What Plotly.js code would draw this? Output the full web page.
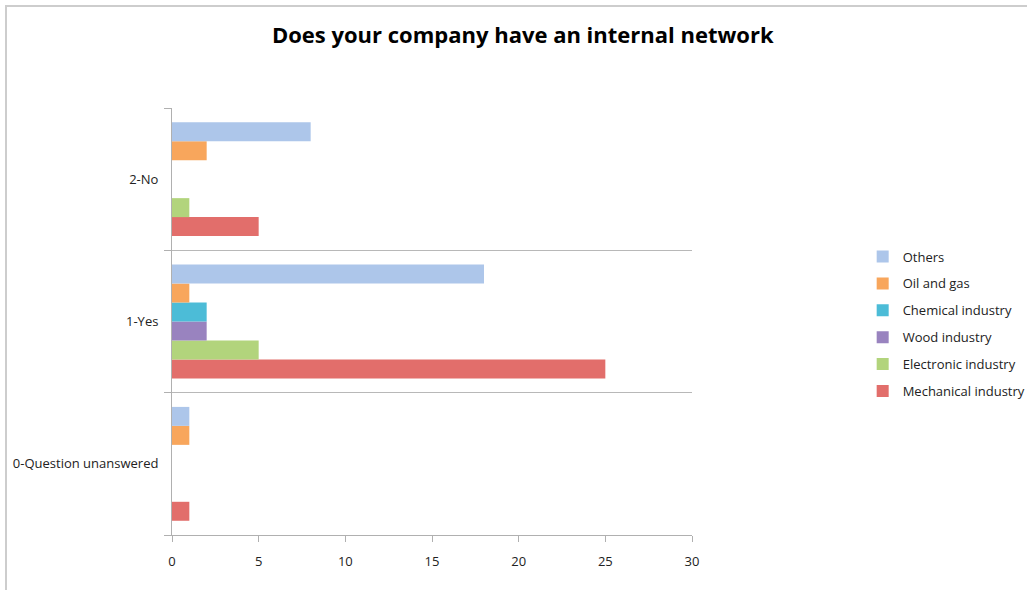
<!DOCTYPE html>
<html>
<head>
<meta charset="utf-8">
<script src="https://cdn.plot.ly/plotly-3.0.1.min.js"></script>
<style>
html,body{margin:0;padding:0;background:#fff;overflow:hidden;}
#wrap{position:absolute;left:0;top:0;width:1027px;height:590px;overflow:hidden;}
#frame{position:absolute;left:5px;top:5px;width:1040px;height:600px;border-left:2px solid #cdcdcd;border-top:2px solid #cdcdcd;pointer-events:none;}
#chart{width:1027px;height:590px;}
</style>
</head>
<body>
<div id="wrap"><div id="chart"></div><div id="frame"></div></div>
<script>
const categories = ['0-Question unanswered', '1-Yes', '2-No'];
const seriesNames = ['Mechanical industry', 'Electronic industry', 'Wood industry', 'Chemical industry', 'Oil and gas', 'Others'];
const mechanical = [1, 25, 5];
const electronic = [0, 5, 1];
const wood = [0, 2, 0];
const chemical = [0, 2, 0];
const oilGas = [1, 1, 2];
const others = [1, 18, 8];
const xTicks = [0, 5, 10, 15, 20, 25, 30];

const values = [mechanical, electronic, wood, chemical, oilGas, others];
const colors = ['#e26e6b', '#b2d47c', '#9983bf', '#4cbcd7', '#f8a65c', '#adc6ea'];

const traces = seriesNames.map((name, i) => ({
  type: 'bar',
  orientation: 'h',
  name: name,
  legendgroup: 'g' + i,
  legendrank: seriesNames.length - i,
  y: categories,
  x: values[i],
  marker: {color: colors[i], line: {width: 0}},
  hoverinfo: 'x+name'
}));

const layout = {
  width: 1027,
  height: 590,
  paper_bgcolor: '#ffffff',
  plot_bgcolor: '#ffffff',
  margin: {l: 172, r: 335, t: 108, b: 55, autoexpand: false},
  title: {
    text: '<b>Does your company have an internal network</b>',
    font: {family: 'Open Sans, Liberation Sans, sans-serif', size: 22, color: '#000'},
    x: 0.509, xanchor: 'center', xref: 'container',
    y: 0.94, yref: 'container', yanchor: 'middle'
  },
  barmode: 'group',
  bargap: 0.2,
  bargroupgap: 0,
  font: {family: 'Open Sans, Liberation Sans, sans-serif', size: 13, color: '#222'},
  xaxis: {
    range: [0, 30],
    tickvals: xTicks,
    ticktext: xTicks.map(String),
    showgrid: false,
    zeroline: false,
    showline: true,
    linecolor: '#b0b0b0',
    linewidth: 1,
    ticks: 'outside',
    ticklen: 6,
    tickcolor: '#b0b0b0',
    ticklabelstandoff: 8,
    tickfont: {size: 13, color: '#222'}
  },
  yaxis: {
    type: 'category',
    categoryorder: 'array',
    categoryarray: categories,
    range: [-0.5, 2.5],
    tickson: 'boundaries',
    showgrid: true,
    gridcolor: '#b8b8b8',
    gridwidth: 1,
    showline: true,
    linecolor: '#b0b0b0',
    linewidth: 1,
    ticks: 'outside',
    ticklen: 7,
    tickcolor: '#b0b0b0',
    ticklabelstandoff: 10,
    zeroline: false,
    tickfont: {size: 13, color: '#222'}
  },
  legend: {
    xref: 'container',
    x: 0.840, xanchor: 'left',
    yref: 'paper',
    y: 0.494, yanchor: 'middle',
    traceorder: 'grouped',
    font: {size: 13, color: '#222'},
    itemwidth: 30,
    tracegroupgap: 7,
    bgcolor: 'rgba(0,0,0,0)'
  },
  showlegend: true
};

Plotly.newPlot('chart', traces, layout, {displayModeBar: false, staticPlot: true});
</script>
</body>
</html>
